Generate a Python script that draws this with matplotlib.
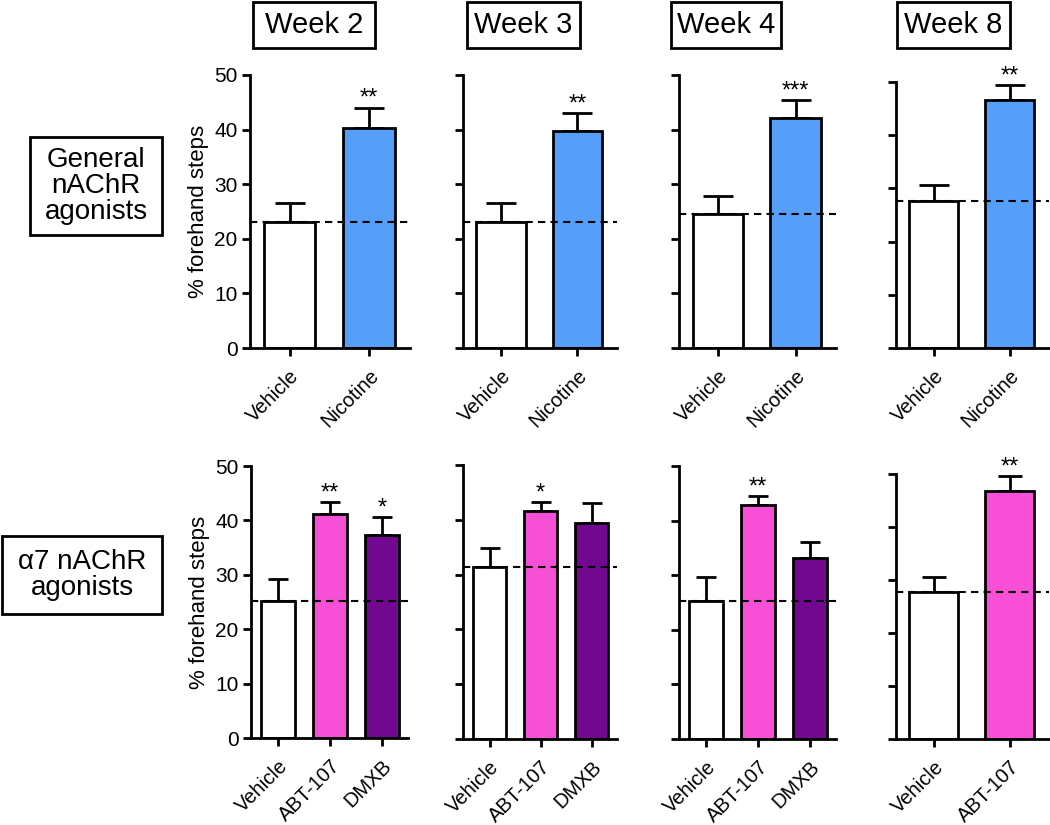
import matplotlib
matplotlib.use("Agg")
import matplotlib.pyplot as plt
from matplotlib.patches import Rectangle

plt.rcParams['font.family'] = ['Liberation Sans', 'DejaVu Sans']

# data
weeks = ["Week 2", "Week 3", "Week 4", "Week 8"]

general_labels = [["Vehicle", "Nicotine"]] * 4
general_means = [[23.1, 40.3], [23.1, 39.7], [24.5, 42.1], [27.6, 46.6]]
general_sems = [[3.5, 3.7], [3.5, 3.3], [3.3, 3.3], [3.0, 2.8]]
general_stars = [["", "**"], ["", "**"], ["", "***"], ["", "**"]]
general_colors = ["white", "#559ffa"]

alpha7_labels = [["Vehicle", "ABT-107", "DMXB"], ["Vehicle", "ABT-107", "DMXB"],
                 ["Vehicle", "ABT-107", "DMXB"], ["Vehicle", "ABT-107"]]
alpha7_means = [[25.2, 41.2, 37.3], [31.4, 41.6, 39.4], [25.3, 42.9, 33.2], [27.7, 46.8]]
alpha7_sems = [[4.0, 2.2, 3.3], [3.5, 1.6, 3.7], [4.4, 1.6, 2.9], [2.9, 2.8]]
alpha7_stars = [["", "**", "*"], ["", "*", ""], ["", "**", ""], ["", "**"]]
alpha7_colors = ["white", "#f74fd6", "#730890"]

W, H = 1050, 825

# axes boxes in pixels: (left, right, top, bottom)
top_boxes = [(250, 410, 75, 348), (463, 617, 75, 348), (679, 836, 75, 348), (896, 1049, 82, 348)]
bot_boxes = [(251, 408, 466, 738), (463, 617, 465, 739), (679, 836, 466, 739), (896, 1049, 474, 739)]


def px_axes(fig, box):
    l, r, t, b = box
    return fig.add_axes([l / W, 1 - b / H, (r - l) / W, (b - t) / H])


def draw_panel(ax, labels, means, sems, stars, colors, first_col):
    n = len(labels)
    x = list(range(n))
    width = 0.65 if n == 2 else 0.64
    cap = 10.5 if n == 2 else 7.2
    if n == 2 and colors[1] == "#f74fd6":
        cap = 8.5
    ax.bar(x, means, width=width, color=colors[:n], edgecolor="black",
           linewidth=2, zorder=2)
    ax.errorbar(x, means, yerr=[[0] * n, sems], fmt="none", ecolor="black",
                elinewidth=2, capsize=cap, capthick=2, zorder=1)
    xlim = (-0.5, 1.52) if n == 2 else (-0.52, 2.5)
    ax.plot(xlim, [means[0], means[0]], color="black", lw=1.5,
            linestyle=(0, (3.5, 2.5)), zorder=3)
    for xi, m, s, st in zip(x, means, sems, stars):
        if st:
            ax.annotate(st, (xi, m + s), xytext=(0, 2), textcoords="offset points",
                        ha="center", va="baseline", fontsize=17,
                        annotation_clip=False)
    ax.set_xlim(*xlim)
    ax.set_ylim(0, 50)
    ax.set_yticks([0, 10, 20, 30, 40, 50])
    ax.set_xticks(x)
    ax.set_xticklabels(labels, rotation=45, ha="right", rotation_mode="anchor",
                       fontsize=14.5)
    for side in ["top", "right"]:
        ax.spines[side].set_visible(False)
    for side in ["left", "bottom"]:
        ax.spines[side].set_linewidth(2)
    ax.tick_params(axis="both", direction="out", length=6, width=2, labelsize=15)
    ax.tick_params(axis="x", pad=7, labelsize=14.5)
    ax.tick_params(axis="y", pad=3)
    if first_col:
        ax.set_ylabel("% forehand steps", fontsize=16, labelpad=4)
    else:
        ax.set_yticklabels([])
    ax.set_facecolor("none")


fig = plt.figure(figsize=(W / 100, H / 100), dpi=100)

for i in range(4):
    ax = px_axes(fig, top_boxes[i])
    draw_panel(ax, general_labels[i], general_means[i], general_sems[i],
               general_stars[i], general_colors, i == 0)
    ax = px_axes(fig, bot_boxes[i])
    draw_panel(ax, alpha7_labels[i], alpha7_means[i], alpha7_sems[i],
               alpha7_stars[i], alpha7_colors, i == 0)


def boxed_text(text, l, r, t, b, size):
    fig.patches.append(Rectangle((l / W, 1 - b / H), (r - l) / W, (b - t) / H,
                                 transform=fig.transFigure, fill=False,
                                 edgecolor="black", linewidth=2))
    fig.text((l + r) / 2 / W, 1 - (t + b) / 2 / H, text, ha="center", va="center",
             fontsize=size, linespacing=1.0)


week_boxes = [(253, 375), (467, 580), (671, 781), (897, 1010)]
for w, (l, r) in zip(weeks, week_boxes):
    boxed_text(w, l, r, 2, 48, 21)

boxed_text("General\nnAChR\nagonists", 30, 162, 137, 235, 20)
boxed_text("α7 nAChR\nagonists", 2, 162, 536, 614, 20)

fig.savefig("out.png", dpi=100)
